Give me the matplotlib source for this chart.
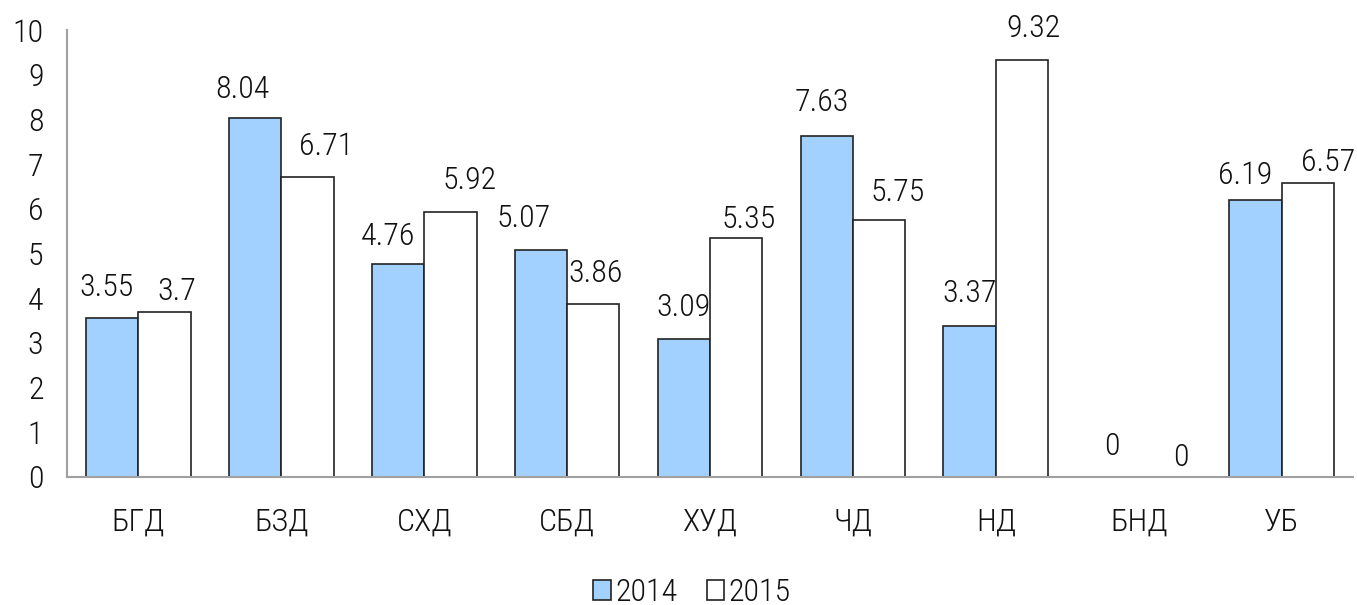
import matplotlib
matplotlib.use("Agg")
import matplotlib.pyplot as plt
import numpy as np
from matplotlib.patches import Patch

categories = ["БГД", "БЗД", "СХД", "СБД", "ХУД", "ЧД", "НД", "БНД", "УБ"]
values_2014 = [3.55, 8.04, 4.76, 5.07, 3.09, 7.63, 3.37, 0, 6.19]
values_2015 = [3.7, 6.71, 5.92, 3.86, 5.35, 5.75, 9.32, 0, 6.57]
label_2014 = ["3.55", "8.04", "4.76", "5.07", "3.09", "7.63", "3.37", "0", "6.19"]
label_2015 = ["3.7", "6.71", "5.92", "3.86", "5.35", "5.75", "9.32", "0", "6.57"]
yticks = list(range(0, 11))

# label nudges in pixels (dx, height of baseline above bar top), as the labels sit in the original
nudge_2014 = [(-6, 22), (-13, 20), (-10, 19), (-17, 23), (0, 23), (-5, 25), (0, 24), (-1, 22), (-10, 16)]
nudge_2015 = [(12, 12), (19, 22), (19, 23), (2, 22), (12, 10), (19, 19), (12, 23), (16, 11), (20, 12)]

plt.rcParams["font.family"] = ["Liberation Sans Narrow", "Arial Narrow", "Roboto Condensed",
                               "PT Sans Narrow", "Liberation Sans", "DejaVu Sans"]
plt.rcParams["font.weight"] = "light"

BLUE = "#A3D1FF"
EDGE = "#222222"
AXIS = "#A0A0A0"
FS = 23
PX = 72 / 100  # points per pixel

fig = plt.figure(figsize=(13.57, 6.05), dpi=100)
ax = fig.add_axes([67 / 1357, 128 / 605, 1286 / 1357, 447 / 605])

x = np.arange(len(categories))
w = 0.366
b1 = ax.bar(x - w / 2, values_2014, w, color=BLUE, edgecolor=EDGE, linewidth=1.2, zorder=3)
b2 = ax.bar(x + w / 2, values_2015, w, color="white", edgecolor=EDGE, linewidth=1.2, zorder=3)

for bars, labels, nudges in ((b1, label_2014, nudge_2014), (b2, label_2015, nudge_2015)):
    for rect, lab, (dx, dy) in zip(bars, labels, nudges):
        ax.annotate(lab, (rect.get_x() + rect.get_width() / 2, rect.get_height()),
                    xytext=(dx * PX, dy * PX), textcoords="offset points",
                    ha="center", va="baseline", fontsize=FS, color="#111111", zorder=5)

ax.set_xlim(-0.5, len(categories) - 0.5)
ax.set_ylim(0, 10)
ax.set_yticks(yticks)
ax.set_yticklabels([str(t) for t in yticks], fontsize=FS)
ax.set_xticks(x)
ax.set_xticklabels(categories, fontsize=FS)
ax.tick_params(axis="y", length=0, pad=17, labelcolor="#111111")
ax.tick_params(axis="x", length=0, pad=22, labelcolor="#111111")

for s in ("top", "right"):
    ax.spines[s].set_visible(False)
for s in ("left", "bottom"):
    ax.spines[s].set_color(AXIS)
    ax.spines[s].set_linewidth(1.5)
    ax.spines[s].set_zorder(4)

handles = [Patch(facecolor=BLUE, edgecolor=EDGE, linewidth=1.2),
           Patch(facecolor="white", edgecolor=EDGE, linewidth=1.2)]
fig.legend(handles, ["2014", "2015"], loc="center", bbox_to_anchor=(0.510, 0.02),
           ncol=2, frameon=False, fontsize=FS, handlelength=0.55, handleheight=0.55,
           handletextpad=0.15, columnspacing=0.9, labelcolor="#111111")

fig.savefig("out.png", dpi=100)
